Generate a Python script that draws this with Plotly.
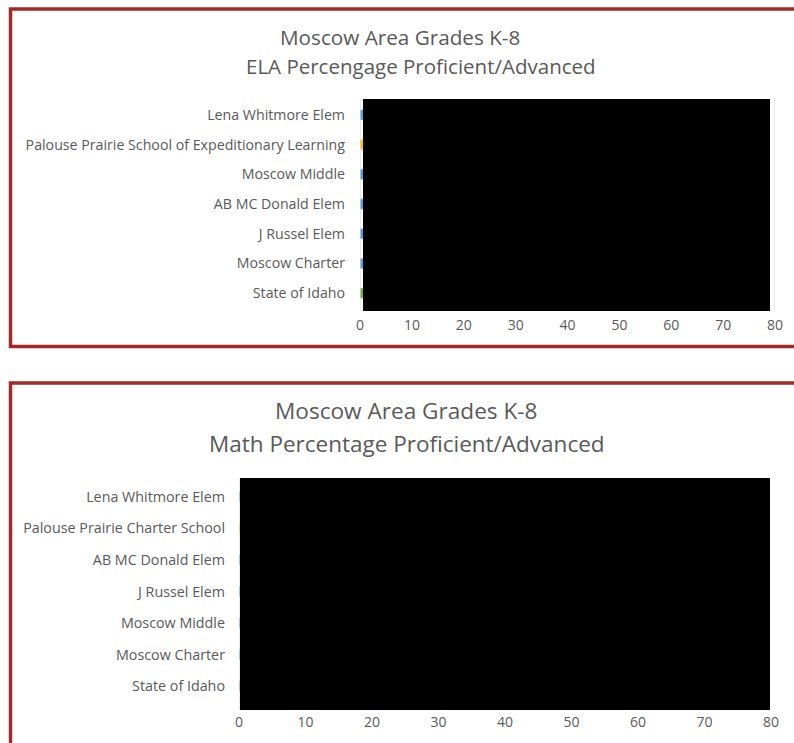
import plotly.graph_objects as go

W, H = 794, 743

# ---- data ----
ela_schools = ["Lena Whitmore Elem", "Palouse Prairie School of Expeditionary Learning",
               "Moscow Middle", "AB MC Donald Elem", "J Russel Elem", "Moscow Charter",
               "State of Idaho"]
ela_values = [64, 60, 58, 57, 55, 62, 52]
ela_colors = ["#5b9bd5", "#ffc000", "#5b9bd5", "#5b9bd5", "#5b9bd5", "#5b9bd5", "#70ad47"]

math_schools = ["Lena Whitmore Elem", "Palouse Prairie Charter School", "AB MC Donald Elem",
                "J Russel Elem", "Moscow Middle", "Moscow Charter", "State of Idaho"]
math_values = [60, 56, 54, 52, 50, 58, 43]
math_colors = ["#5b9bd5", "#ffc000", "#5b9bd5", "#5b9bd5", "#5b9bd5", "#5b9bd5", "#70ad47"]

x_ticks = [0, 10, 20, 30, 40, 50, 60, 70, 80]

GRAY = "#595959"
FONT = "Open Sans"
BORDER = "#a3282a"


def px_x(p):
    return p / W


def px_y(p):
    return 1 - p / H


fig = go.Figure()
fig.add_trace(go.Bar(x=ela_values, y=ela_schools, orientation="h",
                     marker_color=ela_colors, width=0.35,
                     xaxis="x", yaxis="y", showlegend=False))
fig.add_trace(go.Bar(x=math_values, y=math_schools, orientation="h",
                     marker_color=math_colors, width=0.35,
                     xaxis="x2", yaxis="y2", showlegend=False))

common_x = dict(range=[0, 80], tickvals=x_ticks, showgrid=True, gridcolor="#d9d9d9",
                gridwidth=1, zeroline=False, showline=False, fixedrange=True,
                automargin=False, ticks="")
common_y = dict(autorange="reversed", showgrid=False, zeroline=False, showline=False,
                ticks="", automargin=False)

fig.update_layout(
    width=W, height=H, margin=dict(l=0, r=0, t=0, b=0, autoexpand=False),
    paper_bgcolor="white", plot_bgcolor="white",
    bargap=0.6,
    xaxis=dict(domain=[px_x(360), px_x(775)], anchor="y", ticklabelstandoff=7,
               tickfont=dict(family=FONT, size=14, color=GRAY), **common_x),
    yaxis=dict(domain=[px_y(308), px_y(100)], anchor="x", ticklabelstandoff=14,
               tickfont=dict(family=FONT, size=14.2, color=GRAY), **common_y),
    xaxis2=dict(domain=[px_x(239), px_x(771)], anchor="y2", ticklabelstandoff=10,
                tickfont=dict(family=FONT, size=14, color=GRAY), **common_x),
    yaxis2=dict(domain=[px_y(702), px_y(481)], anchor="x2", ticklabelstandoff=13,
                tickfont=dict(family=FONT, size=14.3, color=GRAY), **common_y),
)

shapes = []
# y-axis baselines (light gray)
shapes.append(dict(type="line", xref="x", yref="paper", x0=0, x1=0,
                   y0=px_y(311), y1=px_y(99), line=dict(color="#d9d9d9", width=1)))
shapes.append(dict(type="line", xref="x2", yref="paper", x0=0, x1=0,
                   y0=px_y(710), y1=px_y(478), line=dict(color="#d9d9d9", width=1)))
# gridline at 80 full height
shapes.append(dict(type="line", xref="x", yref="paper", x0=80, x1=80,
                   y0=px_y(311), y1=px_y(99), line=dict(color="#d9d9d9", width=1)))
# redaction boxes
shapes.append(dict(type="rect", xref="paper", yref="paper",
                   x0=px_x(363), x1=px_x(770), y0=px_y(311), y1=px_y(99),
                   fillcolor="black", line=dict(width=0), layer="above"))
shapes.append(dict(type="rect", xref="paper", yref="paper",
                   x0=px_x(240), x1=px_x(770), y0=px_y(710), y1=px_y(478),
                   fillcolor="black", line=dict(width=0), layer="above"))
# chart borders
shapes.append(dict(type="rect", xref="paper", yref="paper",
                   x0=px_x(10.5), x1=px_x(810), y0=px_y(346.5), y1=px_y(9),
                   line=dict(color=BORDER, width=3.5), fillcolor="rgba(0,0,0,0)"))
shapes.append(dict(type="rect", xref="paper", yref="paper",
                   x0=px_x(10.5), x1=px_x(810), y0=px_y(760), y1=px_y(383),
                   line=dict(color=BORDER, width=3.5), fillcolor="rgba(0,0,0,0)"))
fig.update_layout(shapes=shapes)

anns = []
def title(text, cx, cy, size):
    anns.append(dict(text=text, x=px_x(cx), y=px_y(cy), xref="paper", yref="paper",
                     xanchor="center", yanchor="middle", showarrow=False,
                     font=dict(family=FONT, size=size, color=GRAY)))

title("Moscow Area Grades K-8", 400, 37, 20.7)
title("ELA Percengage Proficient/Advanced", 421, 66, 20.5)
title("Moscow Area Grades K-8", 407, 411, 22.6)
title("Math Percentage Proficient/Advanced", 407, 443, 22.5)
fig.update_layout(annotations=anns)

fig.write_html("out.html")
